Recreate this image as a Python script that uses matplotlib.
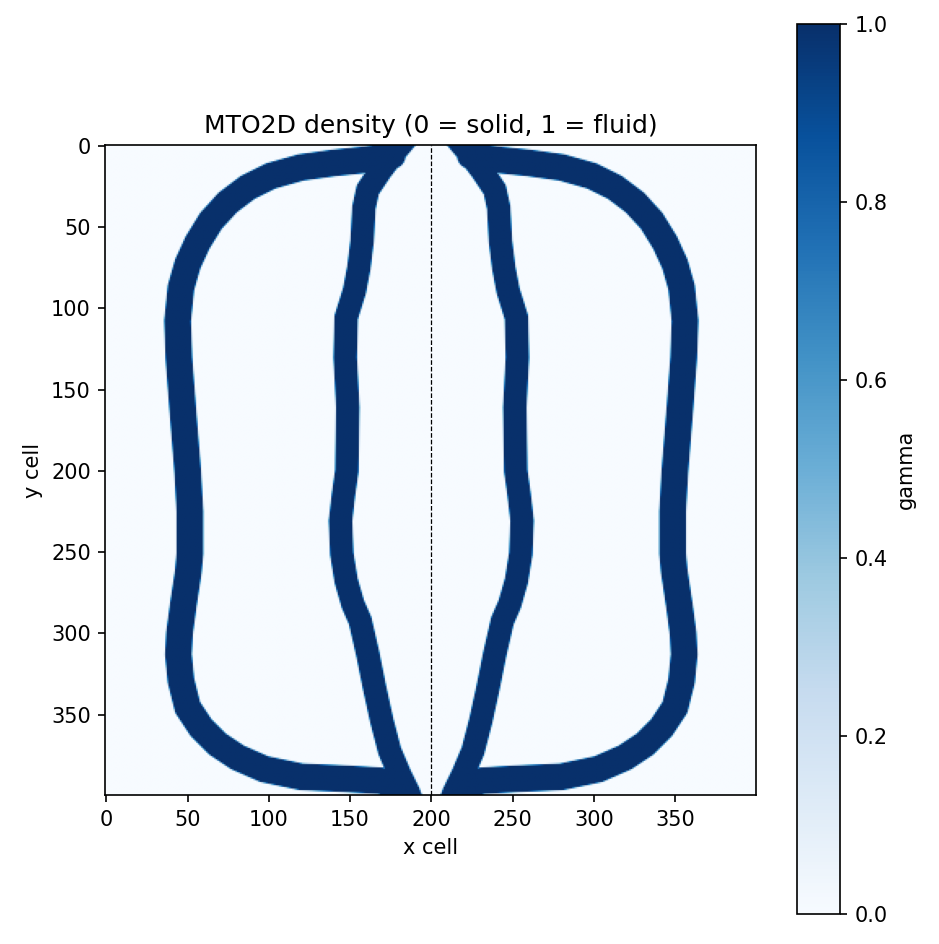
#! /usr/bin/env python3
"""
MTO2D density field plot (0 = solid, 1 = fluid)
"""
import numpy as np
import matplotlib
matplotlib.use("Agg")
import matplotlib.pyplot as plt

# grid size (cells)
NX = 400
NY = 400

# left-half channel centerlines (x cell, y cell), mirrored about x = 200
outer_x = [176, 160, 140.5, 120, 101.5, 87.2, 74.9, 64.6, 56.4, 50.3,
           46.2, 44.1, 44.9, 47.2, 50.3, 51.7, 51.7, 50.7, 47.6, 45.3, 44.6,
           45.5, 46.2, 50.3, 58.5, 68.7, 81, 97.4, 120, 150.8, 169.2, 180]
outer_y = [6, 8.5, 10.5, 13.3, 18.5, 25.6, 34.9, 46.2, 59.5, 72.8,
           87.2, 107.7, 130.3, 161, 200, 225, 251, 262, 282.7, 300, 313,
           322, 329.2, 345.6, 358, 368.2, 376.4, 383.6, 388.3, 389.7, 390.8, 395]
outer_width = 16.5

inner_x = [184, 179, 169, 161, 158.6, 157.5, 155.5, 152.8, 147.7, 147.1,
           148.7, 148.1, 146, 144.2, 145, 147.7, 151.8, 156.3, 161, 165.1,
           169.6, 174.4, 180.5, 186, 189]
inner_y = [-4, 2, 15, 27, 38, 58.5, 75, 89.2, 105.6, 130.3,
           161, 200, 215, 230.8, 251, 267.7, 282, 292.3, 312.8, 333.3,
           353.8, 372.3, 386.7, 398, 406]
inner_width = 14.5

mirror_x = 200.0


def polyline_distance(px, py, xs, ys):
    """minimum distance from grid points (px, py) to a polyline"""
    dist = np.full(px.shape, np.inf)
    for i in range(len(xs) - 1):
        ax_, ay_ = xs[i], ys[i]
        bx, by = xs[i + 1], ys[i + 1]
        dx, dy = bx - ax_, by - ay_
        seg_len2 = dx * dx + dy * dy
        t = ((px - ax_) * dx + (py - ay_) * dy) / seg_len2
        t = np.clip(t, 0.0, 1.0)
        cx = ax_ + t * dx
        cy = ay_ + t * dy
        dist = np.minimum(dist, np.hypot(px - cx, py - cy))
    return dist


def build_density() -> np.ndarray:
    gx, gy = np.meshgrid(np.arange(NX, dtype=float), np.arange(NY, dtype=float))
    gamma = np.zeros((NY, NX))
    for xs, ys, w in ((outer_x, outer_y, outer_width),
                      (inner_x, inner_y, inner_width)):
        xs = np.asarray(xs, dtype=float)
        ys = np.asarray(ys, dtype=float)
        for path_x in (xs, 2 * mirror_x - xs):
            d = polyline_distance(gx, gy, path_x, ys)
            # soft edge about one cell wide
            g = np.clip(w / 2.0 - d + 0.5, 0.0, 1.0)
            gamma = np.maximum(gamma, g)
    return gamma


if __name__ == "__main__":

    gamma = build_density()

    fig = plt.figure(figsize=(939 / 150, 944 / 150), dpi=150)
    ax = fig.add_axes([105 / 939, 149 / 944, 651 / 939, 650 / 944])
    cax = fig.add_axes([797 / 939, 30 / 944, 43 / 939, 890 / 944])

    im = ax.imshow(gamma, cmap="Blues", vmin=0.0, vmax=1.0)
    ax.axvline(mirror_x, color="k", ls="--", lw=0.6)

    ax.set_title("MTO2D density (0 = solid, 1 = fluid)")
    ax.set_xlabel("x cell")
    ax.set_ylabel("y cell")

    cb = fig.colorbar(im, cax=cax)
    cb.set_label("gamma")

    fig.savefig("out.png", dpi=150)
